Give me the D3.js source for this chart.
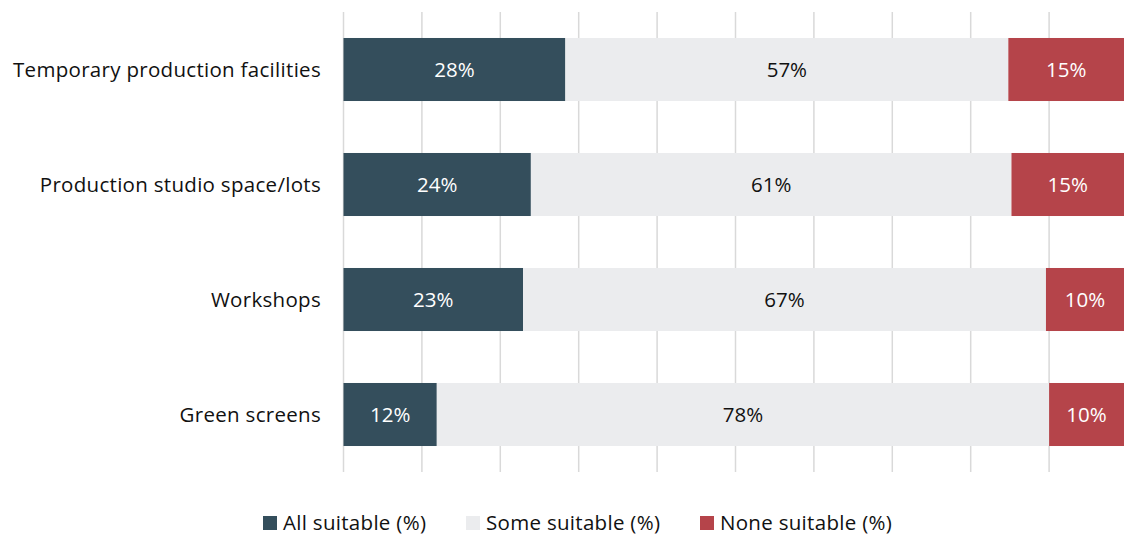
<!DOCTYPE html>
<html>
<head>
<meta charset="utf-8">
<script src="https://cdn.jsdelivr.net/npm/d3@7"></script>
<style>
  body { margin: 0; background: #fff; }
  svg { display: block; }
</style>
</head>
<body>
<div id="chart"></div>
<script>
// values
var categories = ["Temporary production facilities", "Production studio space/lots", "Workshops", "Green screens"];
var allSuitable = [28.3, 23.9, 22.9, 11.9];
var someSuitable = [56.5, 61.3, 66.7, 78.1];
var noneSuitable = [15.2, 14.8, 10.4, 10.0];
var seriesNames = ["All suitable (%)", "Some suitable (%)", "None suitable (%)"];
var seriesColors = ["#344e5c", "#ebecee", "#b5444a"];
var labelColors = ["#ffffff", "#111111", "#ffffff"];

var width = 1124, height = 537;
var font = "'Open Sans', sans-serif";

var rows = categories.map(function (c, i) {
    return { cat: c, all: allSuitable[i], some: someSuitable[i], none: noneSuitable[i] };
});
var keys = ["all", "some", "none"];
var stacked = d3.stack().keys(keys)(rows);

var x = d3.scaleLinear()
    .domain([0, 100])
    .range([343.5, 1127.5]);

var y = d3.scaleBand()
    .domain(categories)
    .range([12, 472])
    .paddingInner(0.452)
    .paddingOuter(0.226);

var svg = d3.select("#chart")
    .append("svg")
    .attr("width", width)
    .attr("height", height);

// vertical gridlines
svg.append("g")
    .selectAll("line")
    .data(d3.range(0, 101, 10))
    .enter()
    .append("line")
    .attr("x1", function (d) { return x(d); })
    .attr("x2", function (d) { return x(d); })
    .attr("y1", 12)
    .attr("y2", 472)
    .attr("stroke", "#d9d9d9")
    .attr("stroke-width", 1.5);

var layer = svg.selectAll(".layer")
    .data(stacked)
    .enter()
    .append("g")
    .attr("class", "layer");

layer.selectAll("rect")
    .data(function (d) { return d; })
    .enter()
    .append("rect")
    .attr("x", function (d) { return x(d[0]); })
    .attr("width", function (d) { return x(d[1]) - x(d[0]); })
    .attr("y", function (d) { return y(d.data.cat); })
    .attr("height", y.bandwidth())
    .attr("fill", function (d, i, nodes) {
        return seriesColors[keys.indexOf(d3.select(nodes[i].parentNode).datum().key)];
    });

layer.each(function (s, si) {
    d3.select(this).selectAll("text")
        .data(s)
        .enter()
        .append("text")
        .attr("x", function (d) { return (x(d[0]) + Math.min(x(d[1]), width)) / 2; })
        .attr("y", function (d) { return y(d.data.cat) + y.bandwidth() / 2; })
        .attr("dy", "0.35em")
        .attr("text-anchor", "middle")
        .attr("font-family", font)
        .attr("font-size", 20.5)
        .attr("fill", labelColors[si])
        .text(function (d) { return Math.round(d[1] - d[0]) + "%"; });
});

// category labels
svg.append("g")
    .selectAll("text")
    .data(categories)
    .enter()
    .append("text")
    .attr("x", 321)
    .attr("y", function (d) { return y(d) + y.bandwidth() / 2; })
    .attr("dy", "0.35em")
    .attr("text-anchor", "end")
    .attr("font-family", font)
    .attr("font-size", 20.5)
    .attr("letter-spacing", 0.3)
    .attr("fill", "#111")
    .text(function (d) { return d; });

// legend
var legendX = [263, 466, 700];
var legend = svg.append("g")
    .selectAll("g")
    .data(seriesNames)
    .enter()
    .append("g")
    .attr("transform", function (d, i) { return "translate(" + legendX[i] + ",523)"; });

legend.append("rect")
    .attr("x", 0)
    .attr("y", -7)
    .attr("width", 14)
    .attr("height", 14)
    .attr("fill", function (d, i) { return seriesColors[i]; });

legend.append("text")
    .attr("x", 20)
    .attr("dy", "0.35em")
    .attr("font-family", font)
    .attr("font-size", 20.5)
    .attr("letter-spacing", 0.3)
    .attr("fill", "#111")
    .text(function (d) { return d; });
</script>
</body>
</html>
